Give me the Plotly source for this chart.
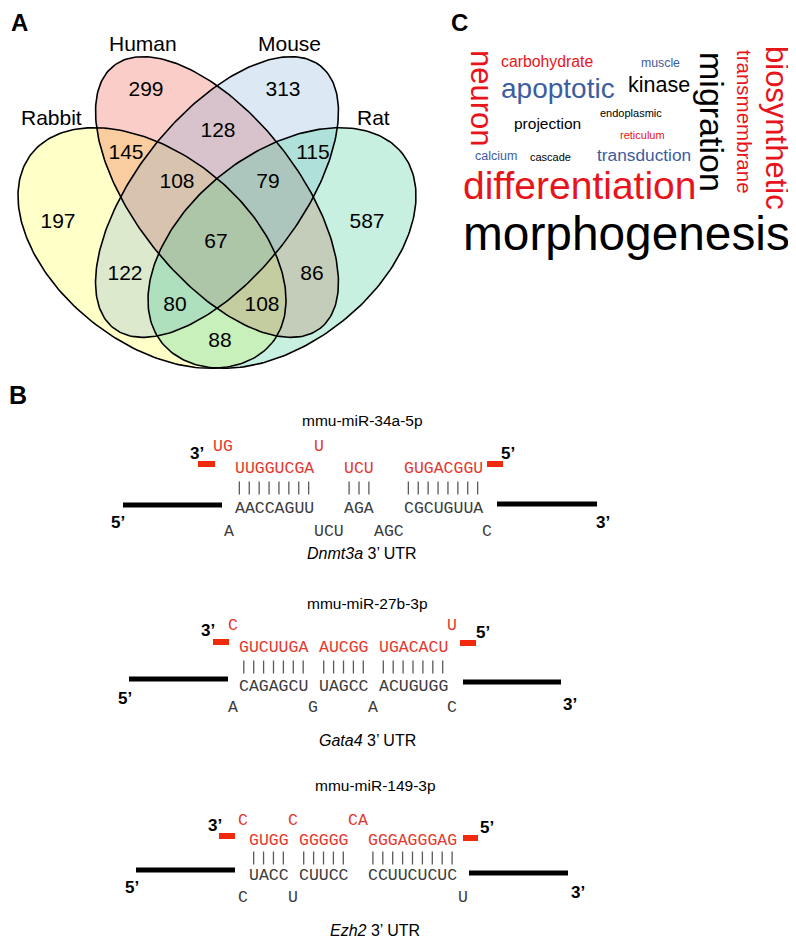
import numpy as np
import plotly.graph_objects as go

# The page body has an 8px margin: the figure is placed at (8, 8) in the window,
# so the figure spans window pixels 8..796 x 8..938 and the axes use window pixels.
OFF = 8
WIN_W, WIN_H = 796, 938
SANS = "Arial, Liberation Sans, sans-serif"
MONO = "Courier New, Liberation Mono, monospace"
RED_WORD = "#E8141C"
BLUE_WORD = "#3C5DA0"
RED_SEQ = "#E4392E"
RED_BAR = "#F22A0C"
GREY_SEQ = "#3C3C3C"
SEQ_SIZE = 16.5
CHAR_W = 0.6 * SEQ_SIZE

# ---------------- Panel A: Venn data ----------------
sets = ["Rabbit", "Human", "Mouse", "Rat"]
region_counts = [197, 299, 313, 587, 145, 128, 115, 108, 79, 67, 122, 86, 80, 108, 88]

# ---------------- Panel C: word cloud data ----------------
words = ["morphogenesis", "differentiation", "migration", "biosynthetic", "neuron",
         "apoptotic", "transmembrane", "kinase", "transduction", "carbohydrate",
         "projection", "calcium", "muscle", "endoplasmic", "reticulum", "cascade"]
word_weight = [47.8, 39, 34, 31, 31, 28, 20.5, 21.5, 17.3, 15.8, 15.5, 12.5, 12.3, 11, 11, 11]
word_group = ["k", "r", "k", "r", "r", "b", "r", "k", "b", "r", "k", "b", "b", "k", "r", "k"]

# ---------------- Panel B: miRNA / 3'UTR pairing data ----------------
mirna_names = ["mmu-miR-34a-5p", "mmu-miR-27b-3p", "mmu-miR-149-3p"]
utr_genes = ["Dnmt3a", "Gata4", "Ezh2"]
mirna_paired = [["UUGGUCGA", "UCU", "GUGACGGU"],
                ["GUCUUGA", "AUCGG", "UGACACU"],
                ["GUGG", "GGGGG", "GGGAGGGAG"]]
target_paired = [["AACCAGUU", "AGA", "CGCUGUUA"],
                 ["CAGAGCU", "UAGCC", "ACUGUGG"],
                 ["UACC", "CUUCC", "CCUUCUCUC"]]
mirna_bulge = [["UG", "U"], ["C", "U"], ["C", "C", "CA"]]
target_bulge = [["A", "UCU", "AGC", "C"], ["A", "G", "A", "C"], ["C", "U", "U"]]

# ---------------- layout geometry (positions / styles) ----------------
set_fill = ["rgba(255,255,35,0.25)", "rgba(238,88,72,0.30)",
            "rgba(115,167,215,0.25)", "rgba(72,205,155,0.30)"]
ell_cx = [152, 217, 217, 282]
ell_cy = [248, 197, 197, 248]
ell_a = [153, 167, 167, 153]
ell_b = [95, 81, 81, 95]
ell_ang = [38, 51.7, -51.7, -38]
set_label_x = [51, 143, 289, 373]
set_label_y = [117, 43, 43, 117]
region_x = [58, 146, 283, 367, 126, 218, 313, 177, 268, 216, 125, 312, 175, 262, 220]
region_y = [223, 91, 91, 223, 154, 132, 154, 183, 183, 243, 275, 275, 306, 306, 342]

word_x = [626, 579, 712, 777, 482, 558, 745, 659, 644, 547, 547, 496, 660, 631, 642, 550]
word_y = [233, 185, 122, 128, 98, 88, 122, 85, 155, 61, 123, 156, 63, 113, 135, 157]
word_angle = [0, 0, 90, 90, 90, 0, 90, 0, 0, 0, 0, 0, 0, 0, 0, 0]
group_color = {"k": "black", "r": RED_WORD, "b": BLUE_WORD}

blk_title = [(362, 420), (367, 603), (375, 785)]
blk_rows = [  # top bulge, mirna row, bars, target row, bottom bulge, utr label
    (446, 468, 488, 508, 531, 553),
    (625, 647, 667, 686, 707, 740),
    (820, 840, 858, 875, 897, 930)]
blk_group_x = [[274, 359, 443], [273.5, 343.5, 413], [268.5, 323.5, 412.5]]
blk_mbulge_x = [[223, 319], [233, 452], [243, 293, 358]]
blk_tbulge_x = [[229, 329, 389, 487], [233, 313, 373, 452], [243, 293, 463]]
blk_redbar = [((198, 215, 464), (487, 503, 464)),
              ((213, 229, 642), (460, 476, 643)),
              ((219, 235, 836), (463, 478, 838))]
blk_prime_top = [((197, 453), (508, 453)), ((208, 630), (483, 632)), ((215, 825), (487, 827))]
blk_utr_line = [((123, 222, 505), (497, 597, 504)),
                ((129, 228, 679), (463, 561, 682)),
                ((136, 235, 870), (469, 568, 873))]
blk_prime_bot = [((118, 522), (603, 522)), ((125, 698), (570, 704)), ((132, 887), (578, 892))]

panel_letters = ["A", "B", "C"]
panel_x = [19, 18, 459]
panel_y = [22, 395, 22]
panel_size = [24, 25, 24]

fig = go.Figure()


def ellipse(cx, cy, a, b, ang, n=240):
    t = np.linspace(0, 2 * np.pi, n)
    th = np.deg2rad(ang)
    x = cx + a * np.cos(t) * np.cos(th) - b * np.sin(t) * np.sin(th)
    y = cy + a * np.cos(t) * np.sin(th) + b * np.sin(t) * np.cos(th)
    return x, y


def text(x, y, s, size, color="black", family=SANS, angle=0):
    fig.add_annotation(x=x, y=y, xref="x", yref="y", text=s, showarrow=False,
                       font=dict(size=size, color=color, family=family),
                       textangle=angle, xanchor="center", yanchor="middle",
                       borderpad=0)


# Venn fills
for i in range(4):
    ex, ey = ellipse(ell_cx[i], ell_cy[i], ell_a[i], ell_b[i], ell_ang[i])
    fig.add_trace(go.Scatter(x=ex, y=ey, mode="lines", fill="toself",
                             fillcolor=set_fill[i], line=dict(width=0),
                             hoverinfo="skip", name=sets[i]))
# Venn outlines
for i in range(4):
    ex, ey = ellipse(ell_cx[i], ell_cy[i], ell_a[i], ell_b[i], ell_ang[i])
    fig.add_trace(go.Scatter(x=ex, y=ey, mode="lines",
                             line=dict(color="black", width=1.6),
                             hoverinfo="skip", name=sets[i]))
fig.add_trace(go.Scatter(x=region_x, y=region_y, mode="text",
                         text=[str(v) for v in region_counts],
                         textfont=dict(size=21, color="black", family=SANS),
                         textposition="middle center", hoverinfo="skip"))
for i in range(4):
    text(set_label_x[i], set_label_y[i], sets[i], 21)

# Word cloud
for i, w in enumerate(words):
    text(word_x[i], word_y[i], w, word_weight[i], group_color[word_group[i]],
         angle=word_angle[i])

# miRNA blocks
bar_x, bar_y = [], []
for k in range(3):
    tb, mr, br, trw, bb, ul = blk_rows[k]
    text(blk_title[k][0], blk_title[k][1], mirna_names[k], 15.5)
    for s, gx in zip(mirna_bulge[k], blk_mbulge_x[k]):
        text(gx, tb, s, SEQ_SIZE, RED_SEQ, MONO)
    for j, gx in enumerate(blk_group_x[k]):
        text(gx, mr, mirna_paired[k][j], SEQ_SIZE, RED_SEQ, MONO)
        text(gx, trw, target_paired[k][j], SEQ_SIZE, GREY_SEQ, MONO)
        n = len(mirna_paired[k][j])
        for i in range(n):
            xb = gx + (i - (n - 1) / 2) * CHAR_W
            bar_x += [xb, xb, None]
            bar_y += [br - 6.5, br + 6.5, None]
    for s, gx in zip(target_bulge[k], blk_tbulge_x[k]):
        text(gx, bb, s, SEQ_SIZE, GREY_SEQ, MONO)
    for (x0, x1, yy) in blk_redbar[k]:
        fig.add_trace(go.Scatter(x=[x0, x1], y=[yy, yy], mode="lines",
                                 line=dict(color=RED_BAR, width=6), hoverinfo="skip"))
    for (x0, x1, yy) in blk_utr_line[k]:
        fig.add_trace(go.Scatter(x=[x0, x1], y=[yy, yy], mode="lines",
                                 line=dict(color="black", width=5), hoverinfo="skip"))
    (l3x, l3y), (r5x, r5y) = blk_prime_top[k]
    text(l3x, l3y, "<b>3’</b>", 17)
    text(r5x, r5y, "<b>5’</b>", 17)
    (l5x, l5y), (r3x, r3y) = blk_prime_bot[k]
    text(l5x, l5y, "<b>5’</b>", 17)
    text(r3x, r3y, "<b>3’</b>", 17)
    text(blk_title[k][0], ul, "<i>" + utr_genes[k] + "</i> 3’ UTR", 16)

fig.add_trace(go.Scatter(x=bar_x, y=bar_y, mode="lines",
                         line=dict(color="#5A5A5A", width=1.3), hoverinfo="skip"))

# panel letters
for s, px, py, ps in zip(panel_letters, panel_x, panel_y, panel_size):
    text(px, py, "<b>" + s + "</b>", ps)

fig.update_layout(width=WIN_W - OFF, height=WIN_H - OFF, margin=dict(l=0, r=0, t=0, b=0),
                  paper_bgcolor="white", plot_bgcolor="white", showlegend=False)
fig.update_xaxes(range=[OFF, WIN_W], visible=False, fixedrange=True)
fig.update_yaxes(range=[WIN_H, OFF], visible=False, fixedrange=True)
fig.write_html("out.html")
